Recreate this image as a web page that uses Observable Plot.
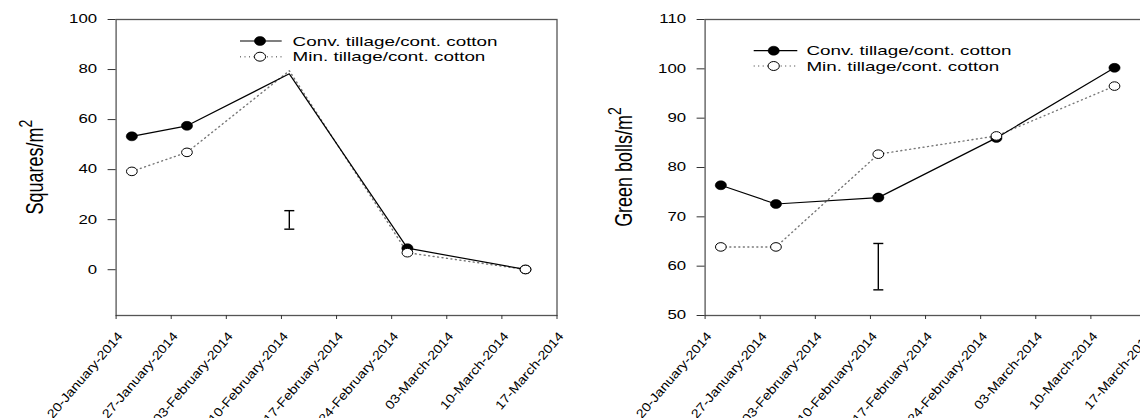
<!DOCTYPE html>
<html>
<head>
<meta charset="utf-8">
<script src="https://cdn.jsdelivr.net/npm/d3@7"></script>
<script src="https://cdn.jsdelivr.net/npm/@observablehq/plot@0.6"></script>
<style>
  html, body { margin: 0; padding: 0; background: #fff; }
  #wrap { position: relative; width: 1140px; height: 418px; overflow: hidden; background: #fff; }
  .panel { position: absolute; top: 0; width: 589px; height: 418px; }
  .panel svg { max-width: none !important; width: 589px; height: 418px; }
</style>
</head>
<body>
<div id="wrap">
  <div class="panel" id="left" style="left:0px"></div>
  <div class="panel" id="right" style="left:589px"></div>
</div>
<script>
// ---------------- data ----------------
const sampleDates = ["2014-01-22", "2014-01-29", "2014-02-11", "2014-02-26", "2014-03-13"];
const squaresConv = [53.3, 57.5, 78.3, 8.6, 0.1];
const squaresMin  = [39.3, 46.9, 79.5, 6.8, 0.1];
const bollsConv   = [76.4, 72.6, 73.9, 86.0, 100.2];
const bollsMin    = [63.9, 63.9, 82.7, 86.4, 96.5];
const squaresNoMarkerDates = ["2014-02-11"];
const lsdDate     = "2014-02-11";
const squaresLSD  = [16.2, 23.6];
const bollsLSD    = [55.2, 64.6];
const tickDates   = ["2014-01-20", "2014-01-27", "2014-02-03", "2014-02-10", "2014-02-17", "2014-02-24", "2014-03-03", "2014-03-10", "2014-03-17"];
const tickLabels  = ["20-January-2014", "27-January-2014", "03-February-2014", "10-February-2014", "17-February-2014", "24-February-2014", "03-March-2014", "10-March-2014", "17-March-2014"];
const squaresTicks = [0, 20, 40, 60, 80, 100];
const bollsTicks   = [50, 60, 70, 80, 90, 100, 110];
const seriesNames  = ["Conv. tillage/cont. cotton", "Min. tillage/cont. cotton"];

const parse = d3.utcParse("%Y-%m-%d");
const FONT = "'Liberation Sans', Arial, Helvetica, sans-serif";

// horizontally elongated marker (the reference markers are wider than tall)
const ellipse = {
  draw(ctx, size) {
    const r = Math.sqrt(size / Math.PI), rx = r * 1.25, ry = r, k = 0.5523;
    ctx.moveTo(rx, 0);
    ctx.bezierCurveTo(rx, ry * k, rx * k, ry, 0, ry);
    ctx.bezierCurveTo(-rx * k, ry, -rx, ry * k, -rx, 0);
    ctx.bezierCurveTo(-rx, -ry * k, -rx * k, -ry, 0, -ry);
    ctx.bezierCurveTo(rx * k, -ry, rx, -ry * k, rx, 0);
    ctx.closePath();
  }
};
const cap = { draw(ctx) { ctx.moveTo(-5, 0); ctx.lineTo(5, 0); } };

function stretchText(nodes, sx, sy) {
  nodes.forEach(t => {
    const tr = t.getAttribute("transform");
    if (tr) t.setAttribute("transform", `${tr} scale(${sx},${sy})`);
    else {
      const x = +t.getAttribute("x") || 0, y = +t.getAttribute("y") || 0;
      t.removeAttribute("x"); t.removeAttribute("y");
      t.setAttribute("transform", `translate(${x},${y}) scale(${sx},${sy})`);
    }
  });
}

function makeChart({conv, min, lsd, yDomain, yTicks, title, legend, noMarker}) {
  const dates = sampleDates.map(parse);
  const conRows = dates.map((d, i) => ({date: d, v: conv[i], key: sampleDates[i]}));
  const minRows = dates.map((d, i) => ({date: d, v: min[i], key: sampleDates[i]}));
  const showMarker = r => !noMarker.includes(r.key);
  const ticks = tickDates.map(parse);

  const svg = Plot.plot({
    width: 589, height: 418,
    marginLeft: 115.6, marginRight: 32.5, marginTop: 19, marginBottom: 103,
    style: {fontFamily: FONT, fontSize: "12px", color: "#000", background: "transparent", maxWidth: "none"},
    x: {type: "utc", domain: [ticks[0], ticks[ticks.length - 1]]},
    y: {domain: yDomain},
    marks: [
      Plot.frame({stroke: "#555", strokeWidth: 1.3}),
      Plot.axisY({ticks: yTicks, tickSize: 8, tickPadding: 11, label: null, stroke: "#333", fill: "#000", fontSize: 12}),
      Plot.axisX({ticks: ticks, tickSize: 4, tickFormat: () => "", label: null, stroke: "#333"}),
      Plot.text(ticks, {x: d => d, text: (d, i) => tickLabels[i], frameAnchor: "bottom", rotate: -49.5,
        textAnchor: "end", lineAnchor: "bottom", dx: 7.2, dy: 21, fontSize: 12.5, fill: "#000"}),
      // LSD bar
      Plot.ruleX([lsdDate], {x: d => parse(d), y1: lsd[0], y2: lsd[1], stroke: "#000", strokeWidth: 1.4}),
      Plot.dot(lsd, {x: () => parse(lsdDate), y: d => d, symbol: cap, r: 3, stroke: "#000", strokeWidth: 1.4, fill: "none"}),
      // lines
      Plot.line(minRows, {x: "date", y: "v", stroke: "#777", strokeWidth: 1.4, strokeDasharray: "1,3.5"}),
      Plot.line(conRows, {x: "date", y: "v", stroke: "#000", strokeWidth: 1.2}),
      Plot.dot(conRows, {filter: showMarker, x: "date", y: "v", symbol: ellipse, r: 4.5, fill: "#000", stroke: "#000", strokeWidth: 0.5}),
      Plot.dot(minRows, {filter: showMarker, x: "date", y: "v", symbol: ellipse, r: 4.3, fill: "#fff", stroke: "#000", strokeWidth: 1})
    ]
  });

  const s = d3.select(svg);
  stretchText(s.selectAll('g[aria-label="y-axis tick label"] text').nodes(), 1.4, 1);
  stretchText(s.selectAll('g[aria-label="text"] text').nodes(), 1.15, 1);

  // y axis title
  const yt = s.append("text")
    .attr("transform", `translate(42.5,167) rotate(-90) scale(1,1.3)`)
    .attr("text-anchor", "middle")
    .attr("font-family", FONT).attr("font-size", 18).attr("fill", "#000");
  yt.append("tspan").text(title);
  yt.append("tspan").attr("font-size", 14).attr("dy", -8).text("2");

  // legend
  const g = s.append("g").attr("font-family", FONT).attr("font-size", 13).attr("text-anchor", "start");
  seriesNames.forEach((name, i) => {
    const y = legend.y[i];
    g.append("line").attr("x1", legend.x1).attr("x2", legend.x2).attr("y1", y).attr("y2", y)
      .attr("stroke", i === 0 ? "#000" : "#777").attr("stroke-width", i === 0 ? 1.2 : 1.4)
      .attr("stroke-dasharray", i === 0 ? null : "1,3.5");
    g.append("path").attr("transform", `translate(${legend.xm},${y})`)
      .attr("d", d3.symbol(ellipse, Math.PI * 4.5 * 4.5)())
      .attr("fill", i === 0 ? "#000" : "#fff").attr("stroke", "#000").attr("stroke-width", i === 0 ? 0.5 : 1);
    g.append("text").attr("transform", `translate(${legend.xt},${y}) scale(1.45,1)`)
      .attr("text-anchor", "start")
      .attr("dy", "0.35em").attr("fill", "#000").text(name);
  });
  return svg;
}

document.getElementById("left").appendChild(makeChart({
  conv: squaresConv, min: squaresMin, lsd: squaresLSD,
  yDomain: [-18.3, 100], yTicks: squaresTicks, title: "Squares/m",
  noMarker: squaresNoMarkerDates,
  legend: {x1: 240, x2: 281.7, xm: 260, xt: 292.6, y: [41, 56.7]}
}));
document.getElementById("right").appendChild(makeChart({
  conv: bollsConv, min: bollsMin, lsd: bollsLSD,
  yDomain: [50, 110], yTicks: bollsTicks, title: "Green bolls/m",
  noMarker: [],
  legend: {x1: 164.7, x2: 208.3, xm: 184.7, xt: 217.4, y: [50.7, 66]}
}));
</script>
</body>
</html>
